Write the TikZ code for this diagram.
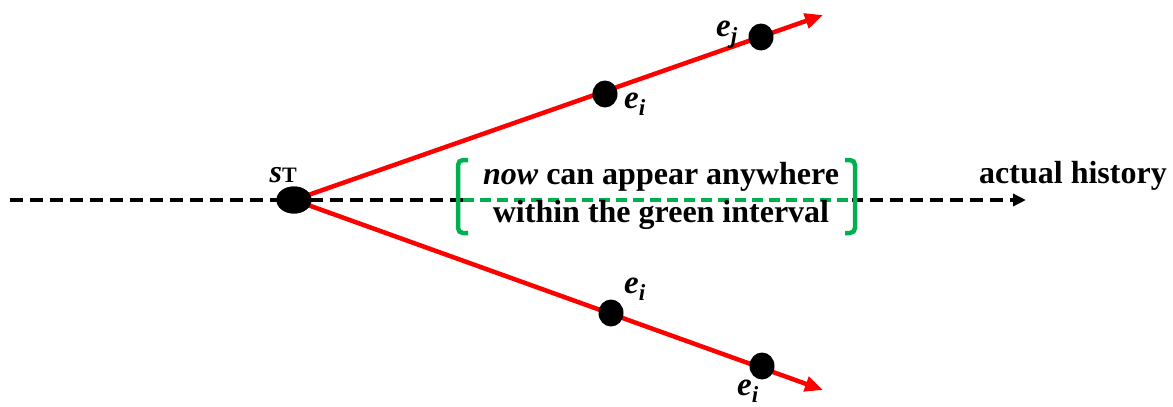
\documentclass[tikz,border=0pt]{standalone}
\usepackage{fontspec}
\setmainfont{Liberation Serif}
\usetikzlibrary{arrows.meta,shapes.geometric}
\definecolor{Ray}{HTML}{FF0000}
\definecolor{Interval}{HTML}{00B050}
\definecolor{Ink}{HTML}{000000}
\newcommand{\evt}[1]{e\textsubscript{#1}}

\begin{document}
\begin{tikzpicture}[x=1pt,y=-1pt,
  dot/.style={ellipse,fill=Ink,inner sep=0pt,minimum width=25pt,minimum height=27pt},
  lbl/.style={font=\fontsize{33}{36}\selectfont\bfseries\itshape,inner sep=0pt},
  txt/.style={font=\fontsize{32}{38}\selectfont\bfseries,inner sep=0pt,anchor=base},
  ray/.style={Ray,line width=4.5pt,-{Triangle[length=18pt,width=15pt]}},
  bracket/.style={Interval,line width=4.5pt,rounded corners=5pt}]
\useasboundingbox (0,0) rectangle (1173,407);
\fill[white] (0,0) rectangle (1173,407);
\coordinate (histStart) at (10,200);
\coordinate (histEnd) at (1026,200);
\coordinate (upEnd) at (823,15);
\coordinate (downEnd) at (823,390);
\node[dot,minimum width=35pt,minimum height=27pt] (sT) at (294,200) {};
\draw[Ink,line width=4pt,dash pattern=on 13pt off 7pt,-{Triangle[length=13pt,width=12pt]}] (histStart)--(histEnd);
\draw[ray] (sT.center)--(upEnd);
\draw[ray] (sT.center)--(downEnd);
\node[dot,minimum width=35pt,minimum height=27pt] at (294,200) {};
\node[dot] (upI) at (605,94) {};
\node[dot] (upJ) at (761,37) {};
\node[dot] (downI) at (611,313) {};
\node[dot] (downK) at (762,366) {};
\fill[white] (463,190) rectangle (852,210);
\draw[Interval,line width=4pt,dash pattern=on 11pt off 6pt] (463,200)--(853,200);
\draw[bracket] (468,160)--(458,160)--(458,233)--(468,233);
\draw[bracket] (845,160)--(855,160)--(855,233)--(845,233);
\node[txt] (nowLine) at (661,184) {\textit{now} can appear anywhere};
\node[txt] (withinLine) at (661,222) {within the green interval};
\node[txt] (histLabel) at (1073,183) {actual history};
\node[inner sep=0pt,anchor=base east] (sLabel) at (297,182) {{\fontsize{32}{34}\selectfont\bfseries\itshape s}{\fontsize{22}{24}\selectfont\bfseries T}};
\node[lbl,anchor=base west] (upILabel) at (624,108) {\evt{i}};
\node[lbl,anchor=base west] (upJLabel) at (716,36) {\evt{j}};
\node[lbl,anchor=base west] (downILabel) at (624,293) {\evt{i}};
\node[lbl,anchor=base west] (downKLabel) at (737,395) {\evt{i}};
\end{tikzpicture}
\end{document}
